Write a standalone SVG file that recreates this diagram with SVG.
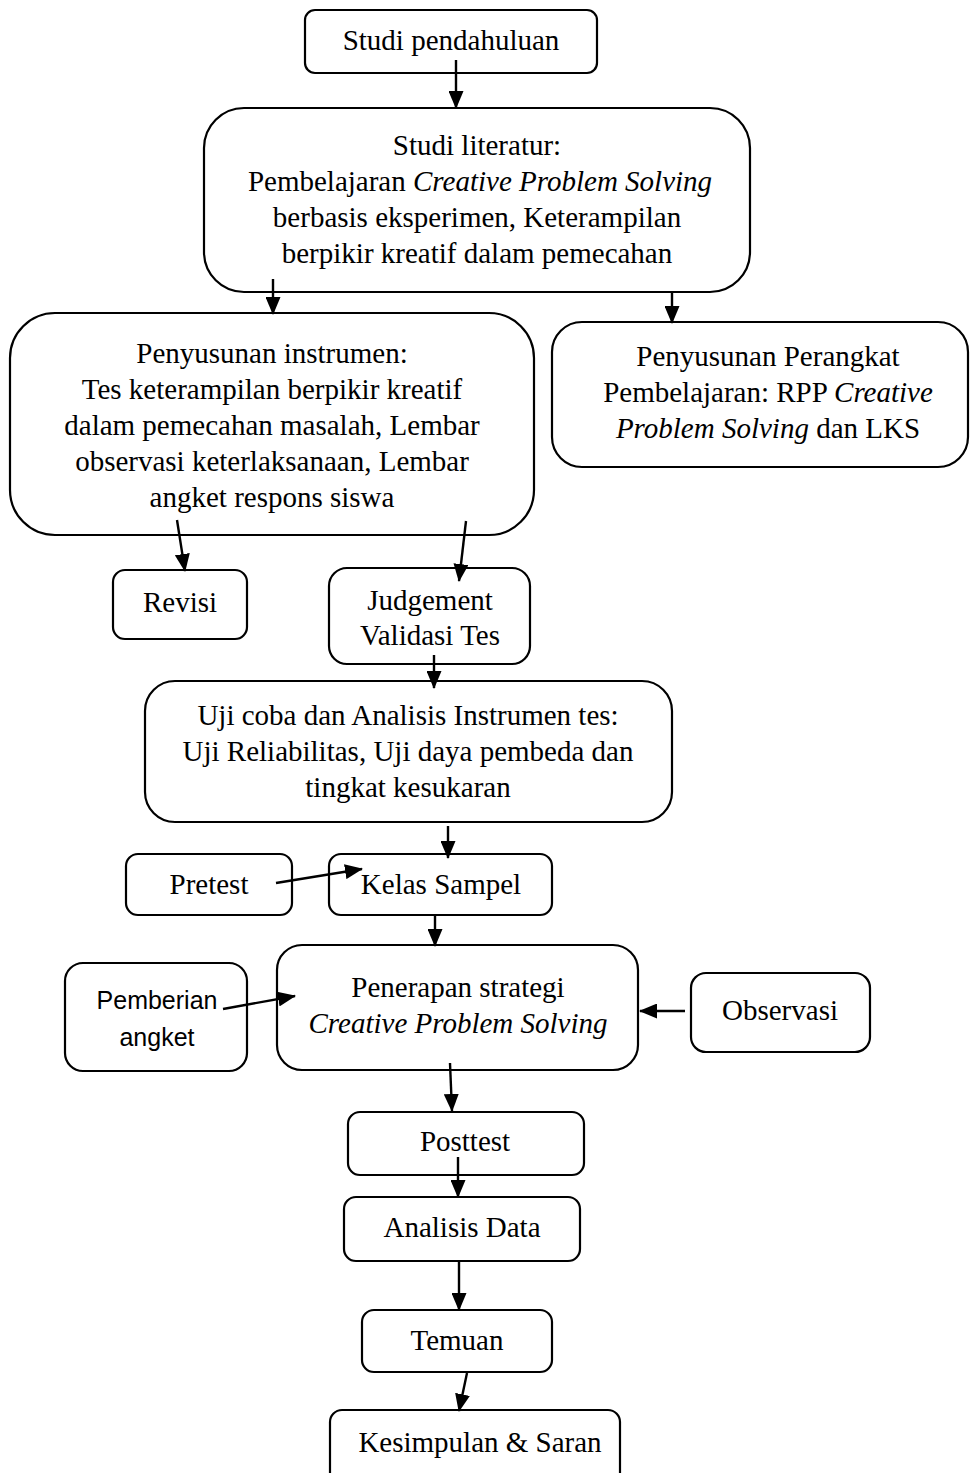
<svg xmlns="http://www.w3.org/2000/svg" width="971" height="1473" viewBox="0 0 971 1473">
<defs>
<marker id="ah" markerWidth="18" markerHeight="15" refX="17" refY="7.5" orient="auto" markerUnits="userSpaceOnUse" viewBox="0 0 18 15">
<path d="M0,0 L18,7.5 L0,15 z" fill="#000"/>
</marker>
<style>
.b{fill:#fff;stroke:#000;stroke-width:2.2}
.t{font-family:"Liberation Serif","Times New Roman",serif;font-size:29px;fill:#000;text-anchor:middle}
.s{font-family:"Liberation Sans",Arial,sans-serif;font-size:25px;fill:#000;text-anchor:middle}
.c line{stroke:#000;stroke-width:2.4;marker-end:url(#ah)}
</style>
</defs>
<rect width="971" height="1473" fill="#fff"/>
<g id="n1"><rect class="b" x="305" y="10" width="292" height="63" rx="10"/><text class="t" x="451" y="50">Studi pendahuluan</text></g>
<g id="n2"><rect class="b" x="204" y="108" width="546" height="184" rx="40"/>
<text class="t" x="477" y="155">Studi literatur:</text>
<text class="t" x="480" y="191">Pembelajaran <tspan font-style="italic">Creative Problem Solving</tspan></text>
<text class="t" x="477" y="227">berbasis eksperimen, Keterampilan</text>
<text class="t" x="477" y="263">berpikir kreatif dalam pemecahan</text></g>
<g id="n3"><rect class="b" x="10" y="313" width="524" height="222" rx="45"/>
<text class="t" x="272" y="363">Penyusunan instrumen:</text>
<text class="t" x="272" y="399">Tes keterampilan berpikir kreatif</text>
<text class="t" x="272" y="435">dalam pemecahan masalah, Lembar</text>
<text class="t" x="272" y="471">observasi keterlaksanaan, Lembar</text>
<text class="t" x="272" y="507">angket respons siswa</text></g>
<g id="n4"><rect class="b" x="552" y="322" width="416" height="145" rx="30"/>
<text class="t" x="768" y="366">Penyusunan Perangkat</text>
<text class="t" x="768" y="402">Pembelajaran: RPP <tspan font-style="italic">Creative</tspan></text>
<text class="t" x="768" y="438"><tspan font-style="italic">Problem Solving</tspan> dan LKS</text></g>
<g id="n5"><rect class="b" x="113" y="570" width="134" height="69" rx="12"/><text class="t" x="180" y="612">Revisi</text></g>
<g id="n6"><rect class="b" x="329" y="568" width="201" height="96" rx="18"/>
<text class="t" x="430" y="610">Judgement</text><text class="t" x="430" y="645">Validasi Tes</text></g>
<g id="n7"><rect class="b" x="145" y="681" width="527" height="141" rx="30"/>
<text class="t" x="408" y="725">Uji coba dan Analisis Instrumen tes:</text>
<text class="t" x="408" y="761">Uji Reliabilitas, Uji daya pembeda dan</text>
<text class="t" x="408" y="797">tingkat kesukaran</text></g>
<g id="n8"><rect class="b" x="126" y="854" width="166" height="61" rx="12"/><text class="t" x="209" y="894">Pretest</text></g>
<g id="n9"><rect class="b" x="329" y="854" width="223" height="61" rx="12"/><text class="t" x="441" y="894">Kelas Sampel</text></g>
<g id="n10"><rect class="b" x="65" y="963" width="182" height="108" rx="18"/>
<text class="s" x="157" y="1009">Pemberian</text><text class="s" x="157" y="1046">angket</text></g>
<g id="n11"><rect class="b" x="277" y="945" width="361" height="125" rx="25"/>
<text class="t" x="458" y="997">Penerapan strategi</text>
<text class="t" x="458" y="1033" font-style="italic">Creative Problem Solving</text></g>
<g id="n12"><rect class="b" x="691" y="973" width="179" height="79" rx="15"/><text class="t" x="780" y="1020">Observasi</text></g>
<g id="n13"><rect class="b" x="348" y="1112" width="236" height="63" rx="12"/><text class="t" x="465" y="1151">Posttest</text></g>
<g id="n14"><rect class="b" x="344" y="1197" width="236" height="64" rx="12"/><text class="t" x="462" y="1237">Analisis Data</text></g>
<g id="n15"><rect class="b" x="362" y="1310" width="190" height="62" rx="12"/><text class="t" x="457" y="1350">Temuan</text></g>
<g id="n16"><rect class="b" x="330" y="1410" width="290" height="75" rx="12"/><text class="t" x="480" y="1452">Kesimpulan &amp; Saran</text></g>
<g class="c" id="connectors">
<line x1="456" y1="60" x2="456" y2="108"/>
<line x1="273" y1="279" x2="273" y2="314"/>
<line x1="672" y1="292" x2="672" y2="323"/>
<line x1="177" y1="520" x2="185" y2="571"/>
<line x1="466" y1="521" x2="459" y2="581"/>
<line x1="434" y1="655" x2="434" y2="688"/>
<line x1="448" y1="826" x2="448" y2="858"/>
<line x1="276" y1="883" x2="362" y2="869"/>
<line x1="435" y1="915" x2="435" y2="946"/>
<line x1="223" y1="1009" x2="295" y2="996"/>
<line x1="685" y1="1011" x2="640" y2="1011"/>
<line x1="450" y1="1063" x2="452" y2="1111"/>
<line x1="458" y1="1157" x2="458" y2="1197"/>
<line x1="459" y1="1262" x2="459" y2="1310"/>
<line x1="467" y1="1373" x2="459" y2="1411"/>
</g>
</svg>
